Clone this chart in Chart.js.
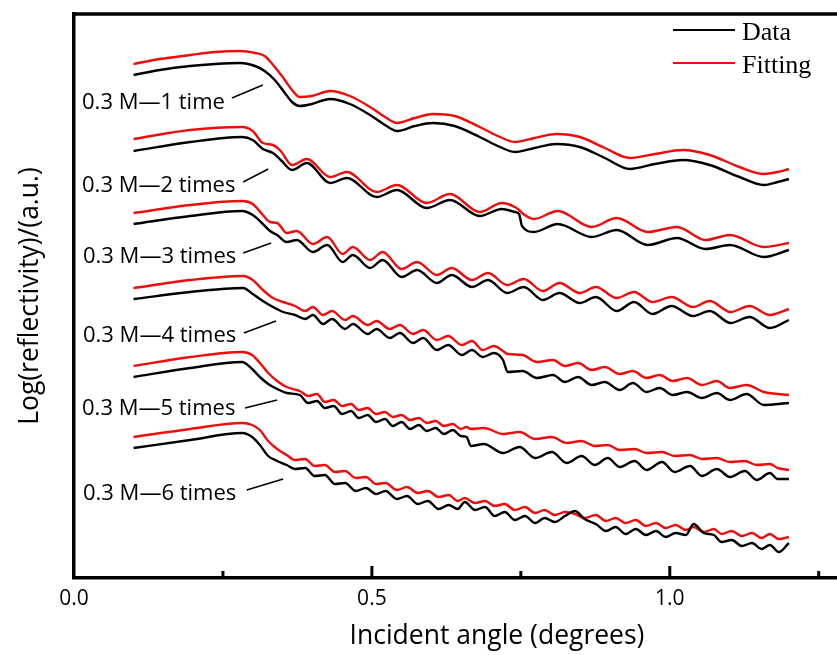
<!DOCTYPE html>
<html>
<head>
<meta charset="utf-8">
<script src="https://cdn.jsdelivr.net/npm/chart.js@4.4.1/dist/chart.umd.min.js"></script>
<style>
html,body{margin:0;padding:0;background:#fff;overflow:hidden}
#wrap{width:837px;height:655px;overflow:hidden;position:relative;background:#fff}
canvas{display:block}
</style>
</head>
<body>
<div id="wrap"><canvas id="c" width="920" height="655"></canvas></div>
<script>
// ---------- data (incident angle in degrees, log reflectivity in a.u., curves offset) ----------
const angle1 = [0.100,0.144,0.195,0.237,0.279,0.304,0.320,0.337,0.354,0.366,0.379,0.399,0.430,0.463,0.497,0.522,0.542,0.572,0.602,0.639,0.681,0.715,0.740,0.773,0.810,0.849,0.891,0.933,0.975,1.022,1.067,1.117,1.158,1.181,1.200];
const data1  = [5.03,5.08,5.12,5.14,5.15,5.12,5.07,4.98,4.85,4.76,4.72,4.74,4.79,4.74,4.63,4.53,4.47,4.52,4.55,4.52,4.41,4.31,4.26,4.30,4.34,4.31,4.20,4.09,4.14,4.18,4.13,4.01,3.93,3.96,3.99];
const fit1   = [5.14,5.19,5.23,5.26,5.27,5.25,5.22,5.11,4.98,4.88,4.81,4.82,4.87,4.82,4.71,4.61,4.55,4.60,4.64,4.62,4.51,4.41,4.36,4.40,4.44,4.41,4.30,4.20,4.24,4.28,4.23,4.11,4.04,4.06,4.09];

const angle2 = [0.100,0.195,0.282,0.300,0.317,0.334,0.347,0.366,0.391,0.430,0.458,0.508,0.542,0.592,0.631,0.681,0.718,0.740,0.747,0.752,0.772,0.812,0.869,0.911,0.963,1.012,1.060,1.101,1.158,1.200];
const data2  = [4.27,4.36,4.41,4.38,4.29,4.25,4.18,4.08,4.15,3.95,4.00,3.81,3.88,3.70,3.78,3.62,3.69,3.66,3.64,3.52,3.46,3.54,3.41,3.48,3.33,3.40,3.29,3.33,3.21,3.28];
const fit2   = [4.39,4.48,4.51,4.47,4.35,4.33,4.27,4.13,4.19,4.01,4.06,3.86,3.93,3.75,3.84,3.66,3.75,3.71,3.68,3.65,3.59,3.67,3.51,3.60,3.46,3.51,3.38,3.43,3.31,3.35];

const angle3 = [0.100,0.195,0.282,0.300,0.317,0.329,0.341,0.357,0.374,0.401,0.425,0.451,0.468,0.497,0.518,0.550,0.576,0.609,0.634,0.668,0.695,0.727,0.755,0.787,0.815,0.849,0.876,0.911,0.940,0.971,1.003,1.039,1.067,1.102,1.134,1.168,1.200];
const data3  = [3.54,3.62,3.67,3.63,3.54,3.47,3.43,3.36,3.38,3.26,3.33,3.16,3.23,3.10,3.18,3.01,3.08,2.95,3.03,2.91,2.98,2.85,2.91,2.78,2.85,2.75,2.81,2.67,2.76,2.64,2.72,2.62,2.67,2.55,2.61,2.50,2.58];
const fit3   = [3.65,3.73,3.77,3.74,3.63,3.56,3.55,3.45,3.47,3.34,3.41,3.24,3.31,3.18,3.26,3.09,3.16,3.03,3.10,2.98,3.05,2.93,2.99,2.87,2.95,2.85,2.91,2.80,2.86,2.76,2.81,2.71,2.77,2.66,2.72,2.63,2.69];

const angle4 = [0.100,0.195,0.284,0.300,0.317,0.334,0.351,0.371,0.388,0.401,0.418,0.433,0.455,0.468,0.493,0.508,0.530,0.547,0.569,0.586,0.609,0.628,0.651,0.668,0.686,0.705,0.720,0.728,0.753,0.777,0.804,0.824,0.846,0.869,0.891,0.916,0.938,0.961,0.983,1.005,1.029,1.054,1.079,1.101,1.129,1.158,1.200];
const data4  = [2.79,2.86,2.90,2.84,2.77,2.71,2.66,2.63,2.59,2.63,2.54,2.59,2.49,2.54,2.44,2.49,2.40,2.45,2.35,2.40,2.28,2.33,2.23,2.28,2.21,2.25,2.18,2.06,2.07,2.00,2.03,1.96,2.01,1.93,1.96,1.88,1.95,1.86,1.90,1.83,1.86,1.80,1.85,1.78,1.84,1.73,1.75];
const fit4   = [2.90,2.98,3.02,2.98,2.88,2.80,2.76,2.72,2.67,2.71,2.63,2.67,2.58,2.62,2.53,2.57,2.49,2.53,2.44,2.48,2.38,2.42,2.33,2.37,2.28,2.32,2.27,2.24,2.23,2.16,2.18,2.12,2.15,2.08,2.11,2.04,2.07,2.00,2.03,1.97,2.00,1.93,1.97,1.90,1.93,1.86,1.83];

const angle5 = [0.100,0.195,0.282,0.299,0.312,0.326,0.341,0.357,0.379,0.393,0.408,0.421,0.436,0.450,0.465,0.478,0.493,0.507,0.522,0.535,0.550,0.564,0.579,0.592,0.607,0.621,0.636,0.649,0.659,0.666,0.688,0.720,0.748,0.774,0.802,0.827,0.852,0.874,0.896,0.916,0.941,0.961,0.987,1.008,1.034,1.054,1.079,1.101,1.126,1.146,1.168,1.181,1.200];
const data5  = [2.01,2.10,2.16,2.09,2.01,1.94,1.89,1.85,1.83,1.75,1.77,1.70,1.72,1.64,1.67,1.60,1.63,1.56,1.59,1.52,1.56,1.49,1.53,1.47,1.50,1.44,1.48,1.42,1.41,1.32,1.34,1.25,1.31,1.20,1.26,1.15,1.22,1.13,1.20,1.11,1.17,1.08,1.16,1.06,1.12,1.02,1.09,1.01,1.07,0.98,1.05,0.99,0.99];
const fit5   = [2.12,2.21,2.26,2.23,2.15,2.05,1.97,1.91,1.87,1.82,1.84,1.76,1.78,1.72,1.74,1.68,1.70,1.64,1.66,1.61,1.63,1.58,1.60,1.55,1.57,1.52,1.54,1.49,1.51,1.49,1.50,1.44,1.46,1.39,1.41,1.35,1.37,1.32,1.33,1.28,1.29,1.25,1.26,1.22,1.23,1.19,1.20,1.16,1.17,1.13,1.14,1.10,1.08];

const angle6 = [0.100,0.195,0.282,0.299,0.312,0.326,0.341,0.357,0.371,0.388,0.404,0.421,0.438,0.455,0.473,0.490,0.507,0.523,0.542,0.559,0.577,0.594,0.612,0.629,0.644,0.656,0.673,0.690,0.706,0.723,0.740,0.757,0.774,0.790,0.807,0.824,0.841,0.857,0.876,0.893,0.909,0.926,0.943,0.960,0.977,0.993,1.010,1.027,1.040,1.057,1.074,1.087,1.104,1.121,1.138,1.154,1.168,1.183,1.200];
const data6  = [1.30,1.38,1.45,1.41,1.33,1.22,1.17,1.13,1.09,1.10,1.02,1.03,0.94,0.95,0.87,0.90,0.84,0.87,0.79,0.82,0.74,0.77,0.69,0.73,0.69,0.76,0.68,0.71,0.62,0.66,0.58,0.62,0.55,0.60,0.56,0.62,0.67,0.59,0.54,0.47,0.51,0.44,0.49,0.43,0.47,0.41,0.45,0.43,0.54,0.45,0.43,0.36,0.38,0.32,0.35,0.29,0.33,0.26,0.35];
const fit6   = [1.41,1.49,1.55,1.53,1.48,1.37,1.29,1.23,1.18,1.19,1.12,1.13,1.06,1.07,1.00,1.01,0.94,0.95,0.88,0.91,0.85,0.87,0.81,0.83,0.77,0.80,0.75,0.77,0.72,0.74,0.68,0.71,0.65,0.68,0.63,0.66,0.64,0.60,0.63,0.57,0.60,0.55,0.58,0.52,0.55,0.50,0.53,0.48,0.51,0.46,0.49,0.44,0.47,0.42,0.45,0.40,0.44,0.39,0.41];

// ---------- tick labels / text ----------
const xTickValues = [0, 0.25, 0.5, 0.75, 1.0, 1.25];
const xTickLabels = ['0.0', '', '0.5', '', '1.0', ''];
const seriesNames = ['Data', 'Fitting'];
const sampleLabels = ['0.3 M\u20141 time', '0.3 M\u20142 times', '0.3 M\u20143 times', '0.3 M\u20144 times', '0.3 M\u20145 times', '0.3 M\u20146 times'];
// annotation anchors, in data coordinates
const labelAngle = [0.0135, 0.0135, 0.015, 0.015, 0.0135, 0.015];
const labelValue = [4.69, 3.86, 3.15, 2.36, 1.63, 0.78];
const leaderStartAngle = [0.265, 0.284, 0.284, 0.285, 0.287, 0.290];
const leaderStartValue = [4.80, 3.96, 3.25, 2.45, 1.70, 0.88];
const leaderEndAngle = [0.317, 0.326, 0.331, 0.339, 0.341, 0.351];
const leaderEndValue = [4.93, 4.09, 3.35, 2.57, 1.78, 0.99];

// ---------- build datasets ----------
const groups = [[angle1, data1, fit1], [angle2, data2, fit2], [angle3, data3, fit3], [angle4, data4, fit4], [angle5, data5, fit5], [angle6, data6, fit6]];
const DATA_COLOR = '#000000';
const FIT_COLOR = '#ee0c0c';
const LINE_W = 2.4;
const datasets = [];
groups.forEach(([a, d, f]) => {
  datasets.push({ label: seriesNames[0], data: a.map((x, i) => ({ x, y: d[i] })), borderColor: DATA_COLOR, borderWidth: LINE_W, pointRadius: 0, cubicInterpolationMode: 'monotone', fill: false });
  datasets.push({ label: seriesNames[1], data: a.map((x, i) => ({ x, y: f[i] })), borderColor: FIT_COLOR, borderWidth: LINE_W, pointRadius: 0, cubicInterpolationMode: 'monotone', fill: false });
});

const notes = {
  id: 'notes',
  afterDraw(chart) {
    const { ctx, chartArea: ca, scales: { x, y } } = chart;
    ctx.save();
    ctx.strokeStyle = '#000';
    ctx.lineCap = 'butt';
    // top frame line
    ctx.lineWidth = 3.5;
    ctx.beginPath(); ctx.moveTo(ca.left - 1.75, ca.top); ctx.lineTo(ca.right + 2, ca.top); ctx.stroke();
    // inward tick marks on the bottom axis
    ctx.lineWidth = 3;
    x.ticks.forEach((t, i) => {
      if (t.value <= 0) return;
      const px = x.getPixelForValue(t.value);
      const len = xTickLabels[i] ? 12 : 7;
      ctx.beginPath(); ctx.moveTo(px, ca.bottom); ctx.lineTo(px, ca.bottom - len); ctx.stroke();
    });
    // sample labels and leader lines
    ctx.fillStyle = '#000';
    ctx.font = '22px "Open Sans"';
    ctx.textAlign = 'left';
    ctx.textBaseline = 'alphabetic';
    ctx.lineWidth = 1.5;
    sampleLabels.forEach((s, i) => {
      ctx.fillText(s, x.getPixelForValue(labelAngle[i]), y.getPixelForValue(labelValue[i]));
      ctx.beginPath();
      ctx.moveTo(x.getPixelForValue(leaderStartAngle[i]), y.getPixelForValue(leaderStartValue[i]));
      ctx.lineTo(x.getPixelForValue(leaderEndAngle[i]), y.getPixelForValue(leaderEndValue[i]));
      ctx.stroke();
    });
    // legend (top right, inside plot)
    const lx0 = ca.left + 599, lx1 = ca.left + 661, tx = ca.left + 668;
    const rows = [{ c: DATA_COLOR, ly: ca.top + 16, ty: ca.top + 25.5 }, { c: FIT_COLOR, ly: ca.top + 49, ty: ca.top + 58.5 }];
    ctx.font = '26px "Liberation Serif"';
    rows.forEach((r, i) => {
      ctx.strokeStyle = r.c; ctx.lineWidth = 2.2;
      ctx.beginPath(); ctx.moveTo(lx0, r.ly); ctx.lineTo(lx1, r.ly); ctx.stroke();
      ctx.fillStyle = '#000';
      ctx.fillText(seriesNames[i], tx, r.ty);
    });
    ctx.restore();
  }
};

new Chart(document.getElementById('c'), {
  type: 'line',
  data: { datasets },
  options: {
    responsive: false,
    animation: false,
    devicePixelRatio: 1,
    layout: { padding: { top: 14, left: 0, right: 0, bottom: 0 }, autoPadding: false },
    plugins: { legend: { display: false }, tooltip: { enabled: false } },
    scales: {
      x: {
        type: 'linear', position: 'bottom', min: 0, max: 1.42,
        afterBuildTicks: s => { s.ticks = xTickValues.map(v => ({ value: v })); },
        afterFit: s => { s.height = 77; },
        ticks: { callback: (v, i) => xTickLabels[i], font: { family: 'Open Sans', size: 21 }, color: '#000', padding: 8, maxRotation: 0, minRotation: 0, autoSkip: false, includeBounds: false },
        grid: { display: true, drawOnChartArea: false, drawTicks: false },
        border: { display: true, color: '#000', width: 3.5 },
        title: { display: true, text: 'Incident angle (degrees)', font: { family: 'Open Sans', size: 26.5 }, color: '#000', padding: { top: 0, bottom: 3 } }
      },
      y: {
        type: 'linear', position: 'left', min: 0, max: 5.64,
        afterFit: s => { s.width = 74; },
        ticks: { display: false },
        grid: { display: true, drawOnChartArea: false, drawTicks: false },
        border: { display: true, color: '#000', width: 3.5 },
        title: { display: true, text: 'Log(reflectivity)/(a.u.)', font: { family: 'Open Sans', size: 26.5 }, color: '#000', padding: { top: 15, bottom: 0 } }
      }
    }
  },
  plugins: [notes]
});
</script>
</body>
</html>
